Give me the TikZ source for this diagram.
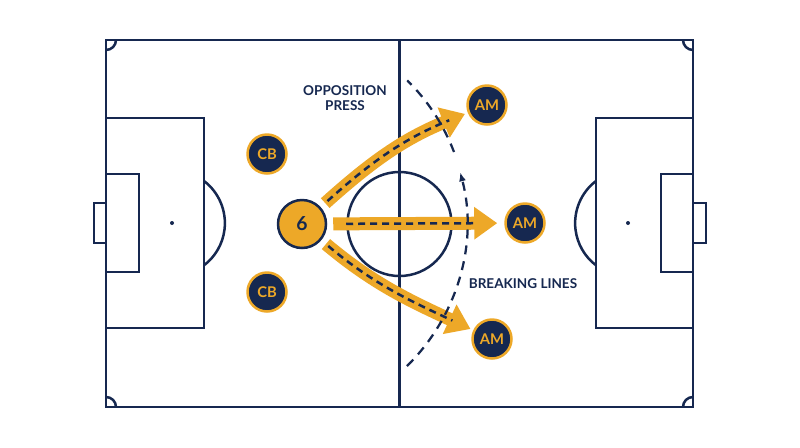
\documentclass[tikz,border=0pt]{standalone}
\usepackage{fontspec}
\setmainfont{Lato}
\usepackage{tikz}
\usetikzlibrary{arrows.meta,calc}
\definecolor{pitchnavy}{RGB}{22, 40, 80}
\definecolor{passorange}{RGB}{237, 168, 40}

\begin{document}
\begin{tikzpicture}[x=0.02cm, y=-0.02cm,
        pitchline/.style={draw=pitchnavy, line width=0.05cm},
        player/.style={circle, fill=pitchnavy, draw=passorange, line width=0.05cm, minimum size=0.78cm, inner sep=0pt, text=passorange, font=\bfseries\fontsize{8.4}{8.4}\selectfont},
        pivot/.style={circle, fill=passorange, draw=pitchnavy, line width=0.05cm, minimum size=0.96cm, inner sep=0pt, text=pitchnavy, font=\bfseries\fontsize{11}{11}\selectfont},
        pass/.style={draw=passorange, line width=0.26cm, -{Triangle[width=0.62cm, length=0.46cm]}, shorten <=0.12cm, shorten >=0.06cm},
        passdash/.style={draw=pitchnavy, line width=0.05cm, dash pattern=on 0.14cm off 0.1cm, shorten <=0.18cm, shorten >=0.4cm},
        press/.style={draw=pitchnavy, line width=0.045cm, dash pattern=on 0.18cm off 0.14cm},
        note/.style={text=pitchnavy, font=\bfseries\fontsize{7.7}{8.4}\selectfont, align=center}]
        \useasboundingbox[fill=white] (0,0) rectangle (800,447);

        % pitch
        \draw[pitchline] (106,40) rectangle (693,407);
        \draw[pitchline] (399.5,40) -- (399.5,407);
        \draw[pitchline] (399.5,224) circle[radius=52];
        \draw[pitchline] (106,118) rectangle (204,328);
        \draw[pitchline] (106,174) rectangle (139,272);
        \draw[pitchline] (94,203) rectangle (106,243);
        \draw[pitchline] (596,118) rectangle (693,328);
        \draw[pitchline] (661,174) rectangle (693,272);
        \draw[pitchline] (693,203) rectangle (706,243);
        \fill[pitchnavy] (172,223) circle[radius=2];
        \fill[pitchnavy] (628,223) circle[radius=2];
        \draw[pitchline] (204,181) arc[start angle=-52.7, end angle=52.7, radius=53];
        \draw[pitchline] (596,181) arc[start angle=232.7, end angle=127.3, radius=53];
        \draw[pitchline] (116,40) arc[start angle=0, end angle=90, radius=10];
        \draw[pitchline] (683,40) arc[start angle=180, end angle=90, radius=10];
        \draw[pitchline] (116,407) arc[start angle=0, end angle=-90, radius=10];
        \draw[pitchline] (683,407) arc[start angle=180, end angle=270, radius=10];

        % players
        \node[pivot] (six) at (302,224) {6};
        \node[player] (cbTop) at (267,154) {CB};
        \node[player] (cbBot) at (267,292) {CB};
        \node[player] (amTop) at (487,105) {AM};
        \node[player] (amMid) at (525,223) {AM};
        \node[player] (amBot) at (492,339) {AM};

        % passes
        \draw[pass] (six) to[out=42, in=-158] (amTop);
        \draw[passdash] (six) to[out=42, in=-158] (amTop);
        \draw[pass, shorten >=0.14cm] (six) -- (amMid);
        \draw[passdash, shorten <=0.38cm, shorten >=0.54cm] (six) -- (amMid);
        \draw[pass] (six) to[out=-40, in=155] (amBot);
        \draw[passdash, shorten >=0.46cm] (six) to[out=-40, in=155] (amBot);

        % opposition line
        \coordinate (pressLow) at (407,366);
        \coordinate (pressUp) at (454,152);
        \draw[press, -{Latex[length=0.18cm, width=0.14cm]}] (pressLow) arc[start angle=45.5, end angle=-14.8, radius=200];
        \draw[press] (pressUp) arc[start angle=-20.8, end angle=-45.5, radius=200];

        \node[note] (pressText) at (345,98) {OPPOSITION\\PRESS};
        \node[note] (breakText) at (523,284) {BREAKING LINES};
    \end{tikzpicture}
\end{document}
